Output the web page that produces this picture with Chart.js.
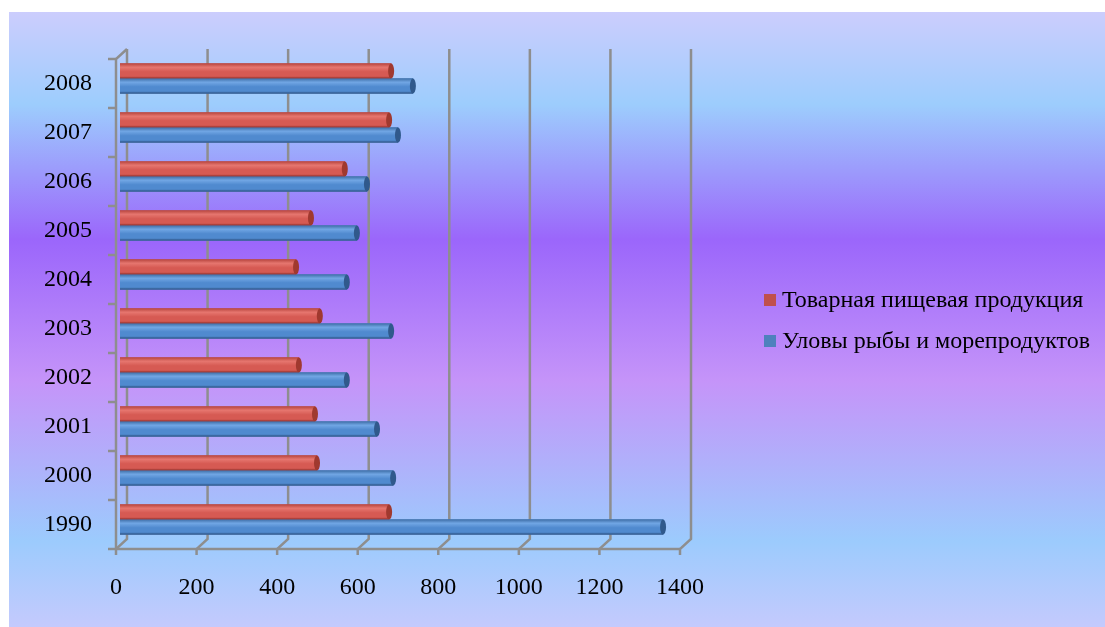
<!DOCTYPE html>
<html>
<head>
<meta charset="utf-8">
<script src="https://cdn.jsdelivr.net/npm/chart.js@4.4.1/dist/chart.umd.min.js"></script>
<style>
    html, body { margin: 0; padding: 0; background: #fff; }
    body { width: 1105px; height: 627px; position: relative; overflow: hidden; font-family: 'Liberation Serif', 'Times New Roman', serif; }
    .panel {
        position: absolute; left: 9px; top: 12px; right: 0; bottom: 0;
        background: linear-gradient(to bottom, #cccdfd 0%, #9dcdfd 15%, #9b66fb 37%, #c594f9 60%, #9ccbfd 86%, #c4cafd 100%);
    }
    #chart { position: absolute; left: 0; top: 0; }
    .legend { position: absolute; left: 764px; top: 285px; font-size: 24px; color: #000; }
    .legend div { height: 41px; line-height: 28px; white-space: nowrap; }
    .legend span.box { display: inline-block; width: 12px; height: 12px; margin-right: 6px; vertical-align: 1px; }
</style>
</head>
<body>
<div class="panel"></div>
<canvas id="chart" width="1105" height="627"></canvas>
<div class="legend" id="legend"></div>
<script>
// categories (years) and series values
const years = ['1990', '2000', '2001', '2002', '2003', '2004', '2005', '2006', '2007', '2008'];
const foodProducts = [668, 489, 484, 444, 496, 437, 474, 558, 668, 673];
const fishCatch = [1348, 678, 638, 563, 673, 563, 588, 613, 690, 727];
const seriesNames = ['Товарная пищевая продукция', 'Уловы рыбы и морепродуктов'];
const xTicks = [0, 200, 400, 600, 800, 1000, 1200, 1400];

const palette = {
    red: { flat: '#c0504d', top: '#b8463f', light: '#e6766f', mid: '#d65a53', dark: '#8c2e2a', cap: '#a0392f' },
    blue: { flat: '#4f81bd', top: '#3f6fa8', light: '#71a6e4', mid: '#508acf', dark: '#2b4f7f', cap: '#30598c' }
};

// depth offsets of the front and back planes relative to the bar plane
const FRONT = { dx: -4, dy: 5 };
const BACK = { dx: 7, dy: -5 };
const GRID = '#8e8e8e';
const FONT = { family: "'Liberation Serif', 'Times New Roman', serif", size: 24 };

const frame3d = {
    id: 'frame3d',
    beforeDatasetsDraw(chart) {
        const { ctx, chartArea: a, scales: { x } } = chart;
        ctx.save();
        ctx.strokeStyle = GRID;
        ctx.lineWidth = 2.5;
        const top = a.top, bottom = a.bottom;
        xTicks.forEach(v => {
            const px = x.getPixelForValue(v);
            // back wall gridline, floor diagonal, tick mark
            ctx.beginPath();
            ctx.moveTo(px + BACK.dx, top + BACK.dy);
            ctx.lineTo(px + BACK.dx, bottom + BACK.dy);
            ctx.lineTo(px + FRONT.dx, bottom + FRONT.dy);
            ctx.lineTo(px + FRONT.dx, bottom + FRONT.dy + 6);
            ctx.stroke();
        });
        // front floor edge
        const x0 = x.getPixelForValue(0), x1 = x.getPixelForValue(1400);
        ctx.beginPath();
        ctx.moveTo(x0 + FRONT.dx, bottom + FRONT.dy);
        ctx.lineTo(x1 + FRONT.dx, bottom + FRONT.dy);
        ctx.stroke();
        // left wall front edge with ticks
        const lx = x0 + FRONT.dx;
        ctx.beginPath();
        ctx.moveTo(x0 + BACK.dx, top + BACK.dy);
        ctx.lineTo(lx, top + FRONT.dy);
        ctx.lineTo(lx, bottom + FRONT.dy);
        ctx.stroke();
        const band = (bottom - top) / years.length;
        for (let i = 0; i <= years.length; i++) {
            const ty = top + FRONT.dy + band * i;
            ctx.beginPath();
            ctx.moveTo(lx - 8, ty);
            ctx.lineTo(lx, ty);
            ctx.stroke();
        }
        ctx.restore();
    },
    afterDatasetsDraw(chart) {
        const ctx = chart.ctx;
        ctx.save();
        chart.data.datasets.forEach((ds, di) => {
            const c = di === 0 ? palette.red : palette.blue;
            chart.getDatasetMeta(di).data.forEach(bar => {
                const h = bar.height, yt = bar.y - h / 2;
                const left = Math.min(bar.base, bar.x), right = Math.max(bar.base, bar.x);
                const g = ctx.createLinearGradient(0, yt, 0, yt + h);
                g.addColorStop(0, c.top);
                g.addColorStop(0.25, c.light);
                g.addColorStop(0.55, c.mid);
                g.addColorStop(0.85, c.mid);
                g.addColorStop(1, c.dark);
                ctx.fillStyle = g;
                ctx.fillRect(left, yt, right - left, h);
                // end cap
                ctx.beginPath();
                ctx.ellipse(right, bar.y, 3, h / 2, 0, 0, Math.PI * 2);
                ctx.fillStyle = c.cap;
                ctx.fill();
            });
        });
        ctx.restore();
    }
};

const ctx = document.getElementById('chart').getContext('2d');
const chart = new Chart(ctx, {
    type: 'bar',
    data: {
        labels: years,
        datasets: [{
            label: seriesNames[0],
            data: foodProducts,
            backgroundColor: palette.red.flat,
            barThickness: 15
        }, {
            label: seriesNames[1],
            data: fishCatch,
            backgroundColor: palette.blue.flat,
            barThickness: 15
        }]
    },
    options: {
        indexAxis: 'y',
        responsive: false,
        animation: false,
        layout: { padding: { left: 0, top: 54, right: 421, bottom: 0 } },
        plugins: {
            legend: { display: false },
            tooltip: { enabled: false }
        },
        scales: {
            x: {
                min: 0,
                max: 1400,
                afterFit: s => { s.height = 83; },
                afterBuildTicks: s => { s.ticks = xTicks.map(v => ({ value: v })); },
                border: { display: false },
                grid: { display: false, drawTicks: false },
                ticks: {
                    color: '#000',
                    padding: 29,
                    labelOffset: FRONT.dx,
                    font: FONT,
                    callback: v => String(v)
                }
            },
            y: {
                reverse: true,
                afterFit: s => { s.width = 120; },
                border: { display: false },
                grid: { display: false, drawTicks: false },
                ticks: {
                    color: '#000',
                    padding: 28,
                    labelOffset: FRONT.dy,
                    font: FONT
                }
            }
        }
    },
    plugins: [frame3d]
});

// legend as html text, built from the chart's datasets
const legendEl = document.getElementById('legend');
chart.data.datasets.forEach(ds => {
    const row = document.createElement('div');
    const box = document.createElement('span');
    box.className = 'box';
    box.style.background = ds.backgroundColor;
    row.appendChild(box);
    row.appendChild(document.createTextNode(ds.label));
    legendEl.appendChild(row);
});
</script>
</body>
</html>
